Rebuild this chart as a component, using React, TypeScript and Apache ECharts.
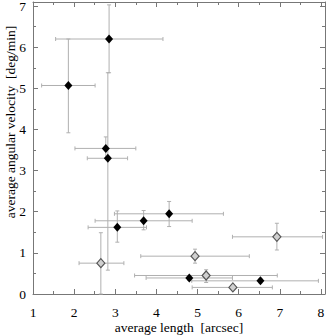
import React, { useEffect, useRef } from "react";
import * as echarts from "echarts";

// black points: x, y, x-error low/high, y-error low/high
const blackX = [2.85, 1.86, 2.77, 2.82, 3.05, 3.69, 4.31, 4.80, 6.53];
const blackY = [6.20, 5.07, 3.54, 3.30, 1.62, 1.78, 1.95, 0.39, 0.32];
const blackXLo = [1.55, 1.21, 2.02, 2.32, 2.34, 2.51, 2.98, 3.75, 4.86];
const blackXHi = [4.16, 2.51, 3.50, 3.30, 3.76, 4.87, 5.63, 5.85, 7.94];
const blackYLo = [5.38, 3.92, 3.30, 0.58, 1.26, 1.56, 1.64, 0.33, 0.27];
const blackYHi = [7.03, 6.20, 3.82, 5.38, 2.02, 2.03, 2.25, 0.45, 0.37];

// gray points
const grayX = [2.65, 4.94, 5.21, 5.86, 6.93];
const grayY = [0.75, 0.92, 0.45, 0.16, 1.39];
const grayXLo = [2.12, 3.62, 3.47, 4.87, 5.85];
const grayXHi = [3.21, 6.26, 6.94, 6.82, 8.04];
const grayYLo = [0.0, 0.75, 0.28, 0.11, 1.07];
const grayYHi = [1.49, 1.09, 0.59, 0.21, 1.72];

const xTicks = [1, 2, 3, 4, 5, 6, 7, 8];
const yTicks = [0, 1, 2, 3, 4, 5, 6, 7];

const xTitle = "average length  [arcsec]";
const yTitle = "average angular velocity  [deg/min]";

const FONT = "'Liberation Serif', 'DejaVu Serif', serif";

function build(xs: number[], ys: number[], xl: number[], xh: number[], yl: number[], yh: number[]) {
  return xs.map((x, i) => [x, ys[i], xl[i], xh[i], yl[i], yh[i]]);
}

const renderErr = (_params: any, api: any) => {
  const x = api.value(0), y = api.value(1);
  const xl = api.value(2), xh = api.value(3), yl = api.value(4), yh = api.value(5);
  const pL = api.coord([xl, y]);
  const pR = api.coord([xh, y]);
  const pB = api.coord([x, yl]);
  const pT = api.coord([x, yh]);
  const c = 2;
  const st = { stroke: "#b0b0b0", lineWidth: 1 };
  const ln = (x1: number, y1: number, x2: number, y2: number) => ({
    type: "line",
    shape: { x1, y1, x2, y2 },
    style: st,
  });
  return {
    type: "group",
    children: [
      ln(pL[0], pL[1], pR[0], pR[1]),
      ln(pL[0], pL[1] - c, pL[0], pL[1] + c),
      ln(pR[0], pR[1] - c, pR[0], pR[1] + c),
      ln(pB[0], pB[1], pT[0], pT[1]),
      ln(pB[0] - c, pB[1], pB[0] + c, pB[1]),
      ln(pT[0] - c, pT[1], pT[0] + c, pT[1]),
    ],
  };
};

export default function App() {
  const ref = useRef<HTMLDivElement>(null);
  useEffect(() => {
    if (!ref.current) return;
    const chart = echarts.init(ref.current, null, { renderer: "svg" });
    const blackData = build(blackX, blackY, blackXLo, blackXHi, blackYLo, blackYHi);
    const grayData = build(grayX, grayY, grayXLo, grayXHi, grayYLo, grayYHi);
    const lineStyle = { color: "#777", width: 1 };
    const xFmt = (v: number) => (xTicks.includes(v) ? String(v) : "");
    const yFmt = (v: number) => (yTicks.includes(v) ? String(v) : "");
    const baseAxis = {
      axisLine: { show: true, onZero: false, lineStyle },
      axisTick: { show: true, inside: true, length: 5, lineStyle },
      minorTick: { show: true, splitNumber: 2, length: 3, lineStyle },
      splitLine: { show: false },
    };
    const titleStyle = {
      fontFamily: FONT,
      fontSize: 13.5,
      fill: "#000",
      align: "center",
      verticalAlign: "middle",
    };
    chart.setOption({
      animation: false,
      grid: {
        left: 33,
        right: 2,
        top: 2,
        bottom: 42,
        containLabel: false,
        outerBoundsMode: "none",
      },
      graphic: [
        {
          type: "text",
          x: 10,
          y: 122,
          rotation: Math.PI / 2,
          style: { ...titleStyle, text: yTitle },
        },
        {
          type: "text",
          x: 179,
          y: 327.5,
          style: { ...titleStyle, text: xTitle },
        },
      ],
      xAxis: [
        {
          ...baseAxis,
          type: "value",
          position: "bottom",
          min: 1,
          max: 8.1,
          interval: 1,
          axisLabel: { formatter: xFmt, fontFamily: FONT, fontSize: 13.5, color: "#000", margin: 11 },
        },
        {
          ...baseAxis,
          type: "value",
          position: "top",
          min: 1,
          max: 8.1,
          interval: 1,
          axisLabel: { show: false },
        },
      ],
      yAxis: [
        {
          ...baseAxis,
          type: "value",
          position: "left",
          min: 0,
          max: 7.1,
          interval: 1,
          axisLabel: { formatter: yFmt, fontFamily: FONT, fontSize: 13.5, color: "#000", margin: 7 },
        },
        {
          ...baseAxis,
          type: "value",
          position: "right",
          min: 0,
          max: 7.1,
          interval: 1,
          axisLabel: { show: false },
        },
      ],
      series: [
        {
          type: "custom",
          renderItem: renderErr,
          data: [...blackData, ...grayData],
          encode: { x: 0, y: 1 },
          xAxisIndex: 0,
          yAxisIndex: 0,
          z: 1,
        },
        {
          type: "scatter",
          data: grayData.map((d) => [d[0], d[1]]),
          symbol: "diamond",
          symbolSize: [8, 9],
          itemStyle: { color: "#d0d0d0", borderColor: "#555", borderWidth: 1.2, opacity: 1 },
          xAxisIndex: 0,
          yAxisIndex: 0,
          z: 3,
        },
        {
          type: "scatter",
          data: blackData.map((d) => [d[0], d[1]]),
          symbol: "diamond",
          symbolSize: [8, 9],
          itemStyle: { color: "#000", opacity: 1 },
          xAxisIndex: 0,
          yAxisIndex: 0,
          z: 3,
        },
      ],
    });
    return () => chart.dispose();
  }, []);
  return (
    <div
      ref={ref}
      style={{ position: "fixed", left: 0, top: 0, width: 327, height: 336, background: "#fff" }}
    />
  );
}
